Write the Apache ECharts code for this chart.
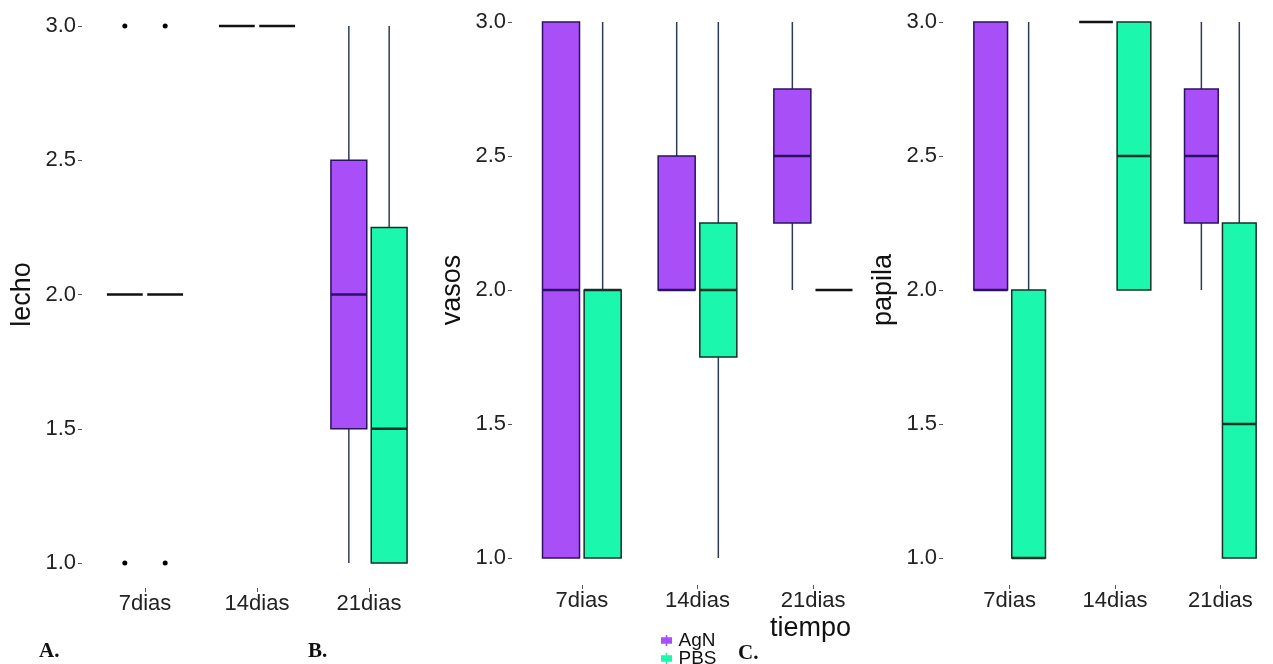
<!DOCTYPE html>
<html>
<head>
<meta charset="utf-8">
<script src="https://cdn.jsdelivr.net/npm/echarts@6/dist/echarts.min.js"></script>
<style>
  html, body { margin: 0; padding: 0; background: #ffffff; }
  #chart { width: 1273px; height: 664px; }
</style>
</head>
<body>
<div id="chart"></div>
<script>
// Categories and groups
const tiempos = ['7dias', '14dias', '21dias'];
const grupos = ['AgN', 'PBS'];
const yTicks = [1.0, 1.5, 2.0, 2.5, 3.0];

// Five-number summaries per tiempo: [min, q1, median, q3, max]
const lechoAgN  = [[2, 2, 2, 2, 2], [3, 3, 3, 3, 3], [1, 1.5, 2, 2.5, 3]];
const lechoPBS  = [[2, 2, 2, 2, 2], [3, 3, 3, 3, 3], [1, 1, 1.5, 2.25, 3]];
const vasosAgN  = [[1, 1, 2, 3, 3], [2, 2, 2, 2.5, 3], [2, 2.25, 2.5, 2.75, 3]];
const vasosPBS  = [[1, 1, 2, 2, 3], [1, 1.75, 2, 2.25, 3], [2, 2, 2, 2, 2]];
const papilaAgN = [[2, 2, 2, 3, 3], [3, 3, 3, 3, 3], [2, 2.25, 2.5, 2.75, 3]];
const papilaPBS = [[1, 1, 1, 2, 3], [2, 2, 2.5, 3, 3], [1, 1, 1.5, 2.25, 3]];

// Outliers: [tiempo index, value]
const lechoAgNOut = [[0, 1], [0, 3]];
const lechoPBSOut = [[0, 1], [0, 3]];

const panels = [
  { name: 'lecho',  AgN: lechoAgN,  PBS: lechoPBS,  outAgN: lechoAgNOut, outPBS: lechoPBSOut },
  { name: 'vasos',  AgN: vasosAgN,  PBS: vasosPBS,  outAgN: [], outPBS: [] },
  { name: 'papila', AgN: papilaAgN, PBS: papilaPBS, outAgN: [], outPBS: [] }
];

const FONT = 'Liberation Sans, Arial, sans-serif';
const style = {
  AgN: { fill: '#A84FF7', stroke: '#2B1063' },
  PBS: { fill: '#1CF7AE', stroke: '#15302A' }
};
const whiskerColor = '#2E3B58';

const grids = [
  { left: 89,  top: 26, width: 336, height: 537 },
  { left: 524, top: 22, width: 347, height: 536 },
  { left: 957, top: 22, width: 330, height: 536 }
];
const yOffsets = [7, 12, 14];
const xOffsets = [25, 27, 27];

// box + whiskers, dodged within the category band
function boxRender(grp) {
  const dodge = grp === 'AgN' ? -1 : 1;
  const st = style[grp];
  return function (params, api) {
    const cat = api.value(0);
    const band = api.size([1, 0])[0];
    const w = band * 0.32;
    const cx = api.coord([cat, 0])[0] + dodge * band * 0.18;
    const y = v => api.coord([cat, v])[1];
    const lo = y(api.value(1)), q1 = y(api.value(2)), md = y(api.value(3)),
          q3 = y(api.value(4)), hi = y(api.value(5));
    const flat = Math.abs(q1 - q3) < 0.5;
    const kids = [];
    if (hi < q3) kids.push({ type: 'line', shape: { x1: cx, y1: hi, x2: cx, y2: q3 },
      style: { stroke: whiskerColor, lineWidth: 1.5 } });
    if (lo > q1) kids.push({ type: 'line', shape: { x1: cx, y1: q1, x2: cx, y2: lo },
      style: { stroke: whiskerColor, lineWidth: 1.5 } });
    if (!flat) kids.push({ type: 'rect', shape: { x: cx - w / 2, y: q3, width: w, height: q1 - q3 },
      style: { fill: st.fill, stroke: st.stroke, lineWidth: 1.5 } });
    kids.push({ type: 'line', shape: { x1: cx - w / 2, y1: md, x2: cx + w / 2, y2: md },
      style: { stroke: flat ? '#111111' : st.stroke, lineWidth: 2.5 } });
    return { type: 'group', children: kids };
  };
}

function outlierRender(grp) {
  const dodge = grp === 'AgN' ? -1 : 1;
  return function (params, api) {
    const cat = api.value(0);
    const band = api.size([1, 0])[0];
    const p = api.coord([cat, api.value(1)]);
    return { type: 'circle', shape: { cx: p[0] + dodge * band * 0.18, cy: p[1], r: 2.5 },
      style: { fill: '#000000' } };
  };
}

const xAxis = [], yAxis = [], series = [];
panels.forEach((pn, k) => {
  xAxis.push({
    type: 'category', data: tiempos, gridIndex: k, offset: xOffsets[k],
    axisLine: { show: false },
    axisTick: { show: true, alignWithLabel: true, length: 4, lineStyle: { color: '#555555' } },
    axisLabel: { fontSize: 22, color: '#222222', margin: 5, fontFamily: FONT },
    splitLine: { show: false }
  });
  yAxis.push({
    type: 'value', gridIndex: k, min: yTicks[0], max: yTicks[yTicks.length - 1], interval: 0.5,
    offset: yOffsets[k],
    axisLine: { show: false },
    axisTick: { show: true, length: 4, lineStyle: { color: '#555555' } },
    axisLabel: { fontSize: 22, color: '#222222', margin: 6, fontFamily: FONT,
      formatter: v => v.toFixed(1) },
    splitLine: { show: false },
    name: pn.name, nameLocation: 'middle', nameGap: 46, nameRotate: 90,
    nameTextStyle: { fontSize: 27, color: '#111111', fontFamily: FONT }
  });
  grupos.forEach(g => {
    series.push({
      type: 'custom', name: g, xAxisIndex: k, yAxisIndex: k,
      itemStyle: { color: style[g].fill, borderColor: style[g].stroke },
      renderItem: boxRender(g),
      encode: { x: 0, y: [1, 2, 3, 4, 5] },
      data: pn[g].map((s, i) => [i].concat(s)),
      z: 2
    });
    const outs = pn['out' + g];
    if (outs.length) {
      series.push({
        type: 'custom', name: g + ' atípicos', xAxisIndex: k, yAxisIndex: k,
        renderItem: outlierRender(g),
        encode: { x: 0, y: 1 },
        data: outs,
        z: 3
      });
    }
  });
});

// one legend entry per row, stacked tightly
const legendBase = {
  orient: 'vertical', left: 656,
  itemWidth: 14, itemHeight: 11, itemGap: 0,
  icon: 'path://M6,0H8V3H14V11H8V14H6V11H0V3H6Z',
  textStyle: { fontSize: 19, color: '#111111', fontFamily: FONT }
};

const chart = echarts.init(document.getElementById('chart'), null, { renderer: 'canvas' });
chart.setOption({
  backgroundColor: '#ffffff',
  animation: false,
  grid: grids,
  xAxis: xAxis,
  yAxis: yAxis,
  legend: [
    Object.assign({}, legendBase, { data: [grupos[0]], top: 626 }),
    Object.assign({}, legendBase, { data: [grupos[1]], top: 644 })
  ],
  graphic: [
    { type: 'text', left: 770, top: 615,
      style: { text: 'tiempo', fontSize: 27, fill: '#111111', fontFamily: FONT } },
    { type: 'text', left: 39, top: 641,
      style: { text: 'A.', fontSize: 21, fontWeight: 'bold', fill: '#111111', fontFamily: 'Liberation Serif, serif' } },
    { type: 'text', left: 308, top: 641,
      style: { text: 'B.', fontSize: 21, fontWeight: 'bold', fill: '#111111', fontFamily: 'Liberation Serif, serif' } },
    { type: 'text', left: 738, top: 643,
      style: { text: 'C.', fontSize: 21, fontWeight: 'bold', fill: '#111111', fontFamily: 'Liberation Serif, serif' } }
  ],
  series: series
});
</script>
</body>
</html>
